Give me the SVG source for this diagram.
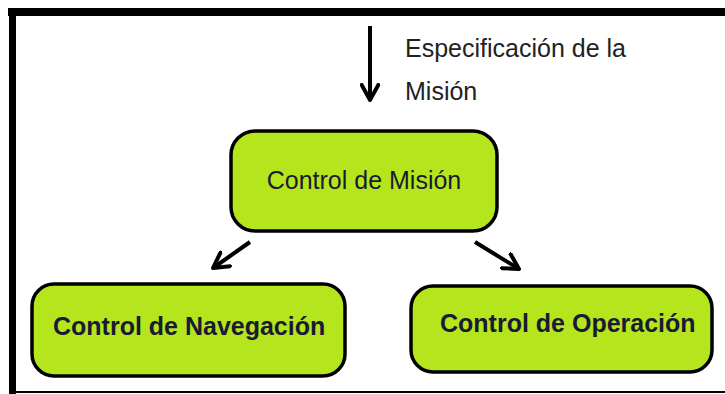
<svg xmlns="http://www.w3.org/2000/svg" width="725" height="394" viewBox="0 0 725 394">
<style>
.box{fill:#b5e61d;stroke:#000;stroke-width:3.5}
.t{font-family:"Liberation Sans",Arial,sans-serif;font-size:25px;fill:#1a1a33}
.b{font-weight:bold}
.lbl{font-family:"Liberation Sans",Arial,sans-serif;font-size:25px;fill:#222}
.conn{stroke:#000;stroke-width:4;fill:none}
</style>
<defs>
<marker id="ah" viewBox="0 0 12 12" refX="10" refY="6" markerWidth="5" markerHeight="5" orient="auto" markerUnits="strokeWidth">
<path d="M1,1 L10,6 L1,11" fill="none" stroke="#000" stroke-width="2.4" stroke-linecap="round" stroke-linejoin="round"/>
</marker>
</defs>
<rect width="725" height="394" fill="#fff"/>
<g id="frame">
<rect x="8" y="8" width="717" height="8" fill="#000"/>
<rect x="9" y="8" width="7" height="386" fill="#000"/>
<rect x="9" y="391" width="716" height="2" fill="#000"/>
</g>
<g id="connectors">
<line class="conn" x1="370" y1="26" x2="370" y2="100" marker-end="url(#ah)"/>
<line class="conn" x1="250" y1="242" x2="213" y2="268" marker-end="url(#ah)"/>
<line class="conn" x1="475" y1="242" x2="519" y2="269" marker-end="url(#ah)"/>
</g>
<g id="spec-label">
<text class="lbl" x="405" y="57">Especificación de la</text>
<text class="lbl" x="405" y="100">Misión</text>
</g>
<g id="control-mision">
<rect class="box" x="231" y="131" width="266" height="100" rx="24" ry="24"/>
<text class="t" x="364" y="189" text-anchor="middle">Control de Misión</text>
</g>
<g id="control-navegacion">
<rect class="box" x="32" y="284" width="313" height="92" rx="22" ry="22"/>
<text class="t b" x="53" y="335">Control de Navegación</text>
</g>
<g id="control-operacion">
<rect class="box" x="411" y="286" width="301" height="86" rx="22" ry="22"/>
<text class="t b" x="440" y="332">Control de Operación</text>
</g>
</svg>
